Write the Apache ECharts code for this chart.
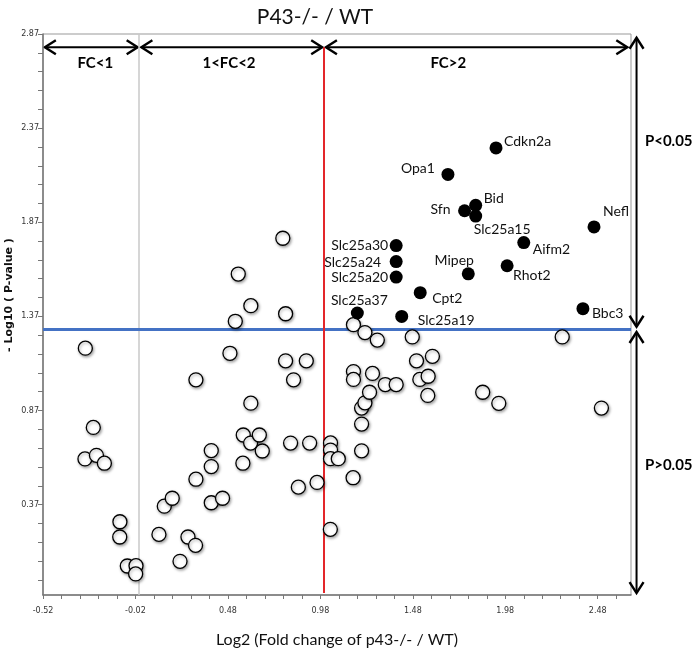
<!DOCTYPE html>
<html><head><meta charset="utf-8">
<script src="https://cdn.jsdelivr.net/npm/echarts@6/dist/echarts.min.js"></script>
<style>html,body{margin:0;padding:0;background:#fff}#c{width:697px;height:654px}</style>
</head><body><div id="c"></div>
<script>
// ---- data ----
const titleText = 'P43-/- / WT';
const xTitle = 'Log2 (Fold change of p43-/- / WT)';
const yTitle = '- Log10 ( P-value )';
const xTickLabels = [-0.52, -0.02, 0.48, 0.98, 1.48, 1.98, 2.48];
const yTickLabels = [0.37, 0.87, 1.37, 1.87, 2.37, 2.87];
const sigGenes = ['Cdkn2a','Opa1','Bid','Sfn','Slc25a15','Nefl','Aifm2','Slc25a30','Slc25a24','Slc25a20','Mipep','Rhot2','Cpt2','Slc25a37','Slc25a19','Bbc3'];
const sigX = [1.93, 1.67, 1.82, 1.76, 1.82, 2.46, 2.08, 1.39, 1.39, 1.39, 1.78, 1.99, 1.52, 1.18, 1.42, 2.40];
const sigY = [2.265, 2.124, 1.960, 1.931, 1.903, 1.845, 1.762, 1.746, 1.661, 1.579, 1.596, 1.639, 1.496, 1.388, 1.370, 1.411];
const nsX = [0.777,0.536,0.604,0.792,0.520,-0.291,0.491,0.792,0.904,0.307,0.835,0.604,-0.248,-0.293,-0.231,-0.188,-0.104,-0.105,-0.064,-0.017,-0.019,0.107,0.136,0.179,0.221,0.264,0.305,0.307,0.390,0.390,0.390,0.451,0.563,0.603,0.650,0.666,0.561,0.819,0.922,0.861,0.962,1.035,1.035,1.035,1.077,1.034,1.157,1.203,1.203,1.203,1.221,1.246,1.159,1.159,1.262,1.331,1.390,1.500,1.586,1.518,1.563,1.561,1.858,1.945,2.500,1.159,1.221,1.288,1.477,2.288];
const nsY = [1.785,1.595,1.427,1.384,1.344,1.201,1.174,1.134,1.134,1.033,1.033,0.909,0.780,0.613,0.632,0.590,0.279,0.198,0.044,0.046,0.002,0.212,0.362,0.404,0.069,0.198,0.154,0.505,0.657,0.572,0.380,0.404,0.740,0.697,0.740,0.655,0.590,0.697,0.697,0.463,0.488,0.698,0.660,0.614,0.614,0.239,0.513,0.656,0.798,0.883,0.911,0.967,1.077,1.035,1.067,1.008,1.008,1.134,1.158,1.035,1.052,0.950,0.967,0.908,0.883,1.326,1.284,1.244,1.261,1.261];
const pThreshold = 1.301;   // -log10(0.05)
const fcLine1 = 0;          // log2(1)
const fcLine2 = 1;          // log2(2)
const fcLabels = ['FC<1', '1<FC<2', 'FC>2'];
const pLabels = ['P<0.05', 'P>0.05'];

// ---- layout / styles ----
const X_MIN = -0.52, X_MAX = 2.66, Y_MIN = -0.11, Y_MAX = 2.87;
const FONT = 'Lato';
const labelLayout = {
  Cdkn2a:[ 'left', 8, -6], Opa1:['right', -13, -6], Bid:['left', 8, -7], Sfn:['right', -14, -1],
  Slc25a15:['left', -2, 13], Nefl:['left', 9, -15], Aifm2:['left', 9, 7], Slc25a30:['right', -8, 0],
  Slc25a24:['right', -15, 1], Slc25a20:['right', -8, 0], Mipep:['center', -14, -13], Rhot2:['left', 6, 10],
  Cpt2:['left', 12, 6], Slc25a37:['center', 2, -13], Slc25a19:['left', 16, 4], Bbc3:['left', 9, 5]
};
const xMinorTicks = []; for (let v = X_MIN; v < X_MAX; v += 0.1) xMinorTicks.push(+v.toFixed(2));
const yMinorTicks = []; for (let v = Y_MAX; v > Y_MIN; v -= 0.1) yMinorTicks.push(+v.toFixed(2));

const sigData = sigGenes.map((g, i) => {
  const L = labelLayout[g];
  return { name: g, value: [sigX[i], sigY[i]],
    label: { show: true, formatter: g, position: 'inside', align: L[0], verticalAlign: 'middle', offset: [L[1], L[2]] } };
});
const nsData = nsX.map((x, i) => [x, nsY[i]]);

const chart = echarts.init(document.getElementById('c'), null, { renderer: 'canvas' });
const axisColor = '#777';
chart.setOption({
  animation: false,
  backgroundColor: '#fff',
  title: { text: titleText, left: 310, top: 2, textAlign: 'center',
    textStyle: { fontFamily: FONT, fontSize: 21, fontWeight: 'normal', color: '#111' } },
  grid: { left: 43, right: 66, top: 34, bottom: 59, show: true, borderColor: '#999', borderWidth: 1 },
  xAxis: { type: 'value', min: X_MIN, max: X_MAX,
    axisLine: { show: true, onZero: false, lineStyle: { color: axisColor, width: 1.5 } },
    axisTick: { show: true, customValues: xMinorTicks, length: 4, lineStyle: { color: axisColor } },
    axisLabel: { customValues: xTickLabels, formatter: v => v.toFixed(2), fontSize: 8, color: '#333', margin: 12, fontFamily: 'DejaVu Sans' },
    splitLine: { show: false } },
  yAxis: { type: 'value', min: Y_MIN, max: Y_MAX,
    axisLine: { show: true, onZero: false, lineStyle: { color: axisColor, width: 1.5 } },
    axisTick: { show: true, customValues: yMinorTicks, length: 5, lineStyle: { color: axisColor } },
    axisLabel: { customValues: yTickLabels, formatter: v => v.toFixed(2), fontSize: 8, color: '#333', margin: 4, fontFamily: 'DejaVu Sans' },
    splitLine: { show: false } },
  series: [
    { type: 'scatter', name: 'ns', data: nsData, symbol: 'circle', symbolSize: 14, z: 3,
      itemStyle: { color: '#fff', opacity: 1, borderColor: '#000', borderWidth: 1.3,
        shadowBlur: 3, shadowColor: 'rgba(0,0,0,0.35)', shadowOffsetX: 1, shadowOffsetY: 1.5 },
      markLine: { silent: true, symbol: ['none', 'none'], z: 1, label: { show: false },
        data: [
          { xAxis: fcLine1, lineStyle: { color: '#c8c8c8', width: 1.5, type: 'solid' } },
          { yAxis: pThreshold, lineStyle: { color: '#4472c4', width: 3, type: 'solid' } },
          [ { coord: [fcLine2, 2.80], lineStyle: { color: '#e3262a', width: 2, type: 'solid' } }, { coord: [fcLine2, -0.10] } ]
        ] } },
    { type: 'scatter', name: 'sig', data: sigData, symbol: 'circle', symbolSize: 13, z: 4,
      itemStyle: { color: '#000', opacity: 1 },
      label: { fontFamily: FONT, fontSize: 14, color: '#111' } }
  ]
});

// ---- annotations (arrows, region labels) positioned through the chart's scales ----
function P(x, y) { return chart.convertToPixel({ gridIndex: 0 }, [x, y]); }
function arrow(a, b) {
  const dx = b[0] - a[0], dy = b[1] - a[1], len = Math.hypot(dx, dy);
  const ux = dx / len, uy = dy / len, nx = -uy, ny = ux, hl = 11, hw = 7;
  const st = { stroke: '#000', lineWidth: 2.4, fill: null, lineJoin: 'miter' };
  return [
    { type: 'line', shape: { x1: a[0], y1: a[1], x2: b[0], y2: b[1] }, style: { stroke: '#000', lineWidth: 2 } },
    { type: 'polyline', shape: { points: [[a[0] + ux*hl + nx*hw, a[1] + uy*hl + ny*hw], a, [a[0] + ux*hl - nx*hw, a[1] + uy*hl - ny*hw]] }, style: st },
    { type: 'polyline', shape: { points: [[b[0] - ux*hl + nx*hw, b[1] - uy*hl + ny*hw], b, [b[0] - ux*hl - nx*hw, b[1] - uy*hl - ny*hw]] }, style: st }
  ];
}
const g = [];
const yTop = 2.80;
g.push(...arrow(P(-0.51, yTop), P(-0.008, yTop)));
g.push(...arrow(P(0.012, yTop), P(0.99, yTop)));
g.push(...arrow(P(1.01, yTop), P(2.64, yTop)));
const xR = 2.69;
g.push(...arrow(P(xR, 2.85), P(xR, 1.315)));
g.push(...arrow(P(xR, 1.287), P(xR, -0.10)));
const boldText = (pt, t) => ({ type: 'text', x: pt[0], y: pt[1],
  style: { text: t, fontFamily: FONT, fontSize: 15, fontWeight: 'bold', fill: '#000', align: 'center', verticalAlign: 'middle' } });
g.push(boldText(P(-0.237, 2.714), fcLabels[0]));
g.push(boldText(P(0.486, 2.714), fcLabels[1]));
g.push(boldText(P(1.672, 2.714), fcLabels[2]));
g.push(boldText(P(2.864, 2.302), pLabels[0]));
g.push(boldText(P(2.864, 0.581), pLabels[1]));
g.push({ type: 'text', x: 337, y: 640, style: { text: xTitle, fontFamily: FONT, fontSize: 16, fill: '#111', align: 'center', verticalAlign: 'middle' } });
g.push({ type: 'text', x: 9, y: 295, rotation: Math.PI / 2, style: { text: yTitle, fontFamily: 'DejaVu Sans', fontSize: 11, fontWeight: 'bold', fill: '#111', align: 'center', verticalAlign: 'middle' } });
chart.setOption({ graphic: { elements: g } });
</script></body></html>
